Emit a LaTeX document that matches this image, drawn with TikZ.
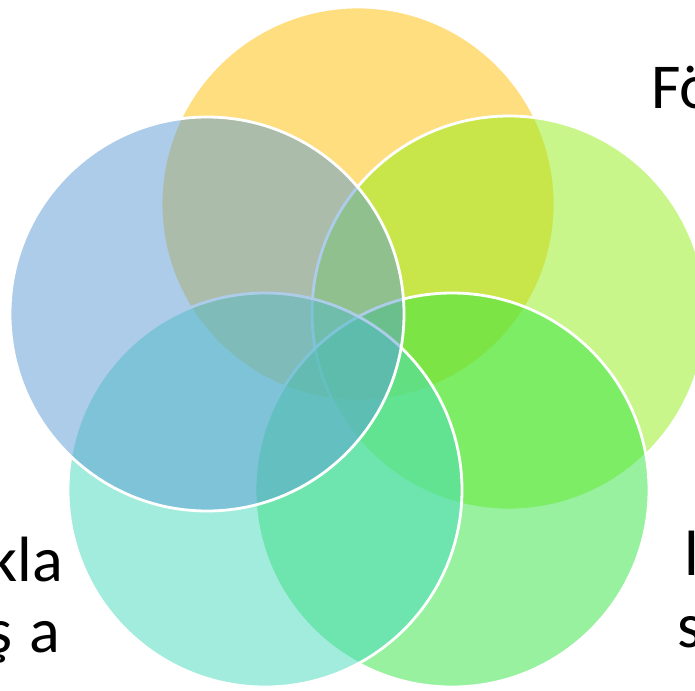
\documentclass[tikz,border=0pt]{standalone}
\usepackage{fontspec}
\setmainfont{Carlito}
\definecolor{cyellow}{RGB}{255,190,0}
\definecolor{clime}{RGB}{147,239,23}
\definecolor{cgreen}{RGB}{49,229,65}
\definecolor{cteal}{RGB}{71,219,189}
\definecolor{cblue}{RGB}{91,155,213}
\begin{document}
\begin{tikzpicture}[x=1pt,y=-1pt,
  venn/.style={circle,draw=white,line width=2.8pt,fill opacity=0.5,draw opacity=1,minimum size=394pt,inner sep=0pt},
  lbl/.style={font=\fontsize{64}{77}\selectfont,inner sep=0pt,text=black}]
\useasboundingbox (0,0) rectangle (695,690);
\fill[white] (0,0) rectangle (695,690);
\node[venn,fill=cyellow] (ctop) at (358,204) {};
\node[venn,fill=clime] (cright) at (509,313) {};
\node[venn,fill=cgreen] (cbr) at (452,490) {};
\node[venn,fill=cteal] (cbl) at (265,490) {};
\node[venn,fill=cblue] (cleft) at (207,314) {};
\node[lbl,anchor=base west] (fo) at (651,109) {Fö};
\node[lbl,anchor=base east] (kla) at (63,581) {kla};
\node[lbl,anchor=base east] (sa) at (60,652) {ş\hspace{17pt}a};
\node[lbl,anchor=base west] (l1) at (684,575) {l};
\node[lbl,anchor=base west] (s1) at (677,647) {s};
\end{tikzpicture}
\end{document}
